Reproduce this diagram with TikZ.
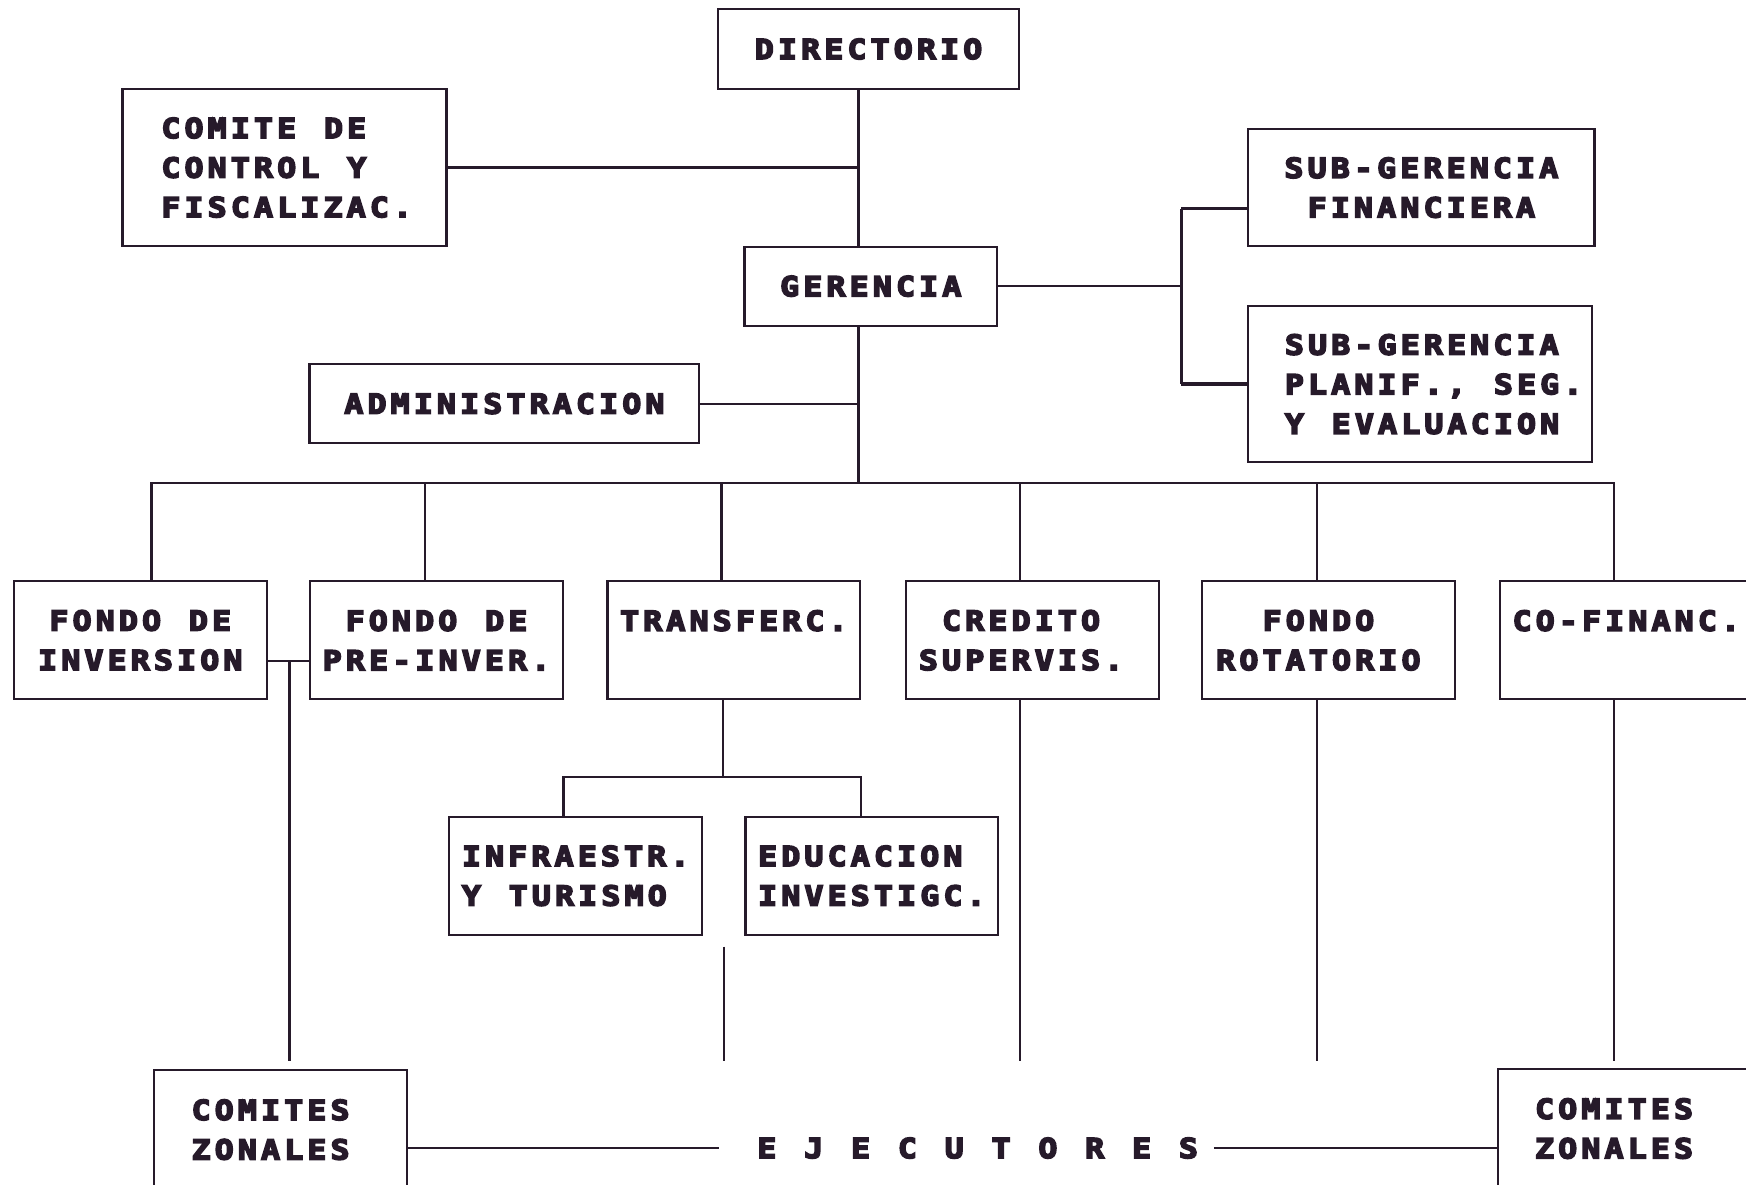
\documentclass[tikz,border=0pt]{standalone}
\usepackage{fontspec}
\newfontfamily\chartfont{DejaVu Sans Mono Bold}[FakeBold=6,FakeStretch=1.15,LetterSpace=15,WordSpace=1.2]
\usepackage{xcolor}
\definecolor{ink}{RGB}{38,26,42}

\tikzset{
    unit/.style={draw=ink, line width=2pt, text=ink, inner sep=0pt,
        font=\chartfont\fontsize{24.7}{35.5}\selectfont,
        minimum width=227pt, minimum height=106pt, align=center},
    link/.style={draw=ink, line width=2pt},
    stub/.style={draw=ink, line width=3pt},
    tag/.style={text=ink, inner sep=0pt, font=\chartfont\fontsize{24.7}{35.5}\selectfont},
}

\begin{document}
\begin{tikzpicture}[x=1pt,y=-1pt]
        \useasboundingbox (0,0) rectangle (1568,1064);

        % top of the chart
        \node[unit, minimum width=270pt, minimum height=72pt] (dir) at (780,44) {DIRECTORIO};
        \node[unit, minimum width=291pt, minimum height=141pt, align=left] (com) at (255.5,150.5) {\kern4pt COMITE DE\\\kern4pt CONTROL Y\\\kern4pt FISCALIZAC.};
        \node[unit, minimum height=71pt] (ger) at (782,257) {GERENCIA};
        \node[unit, minimum width=350pt, minimum height=71pt] (adm) at (453,362.5) {ADMINISTRACION};
        \node[unit, minimum width=311pt, minimum height=105pt] (sfin) at (1276.5,168.5) {SUB-GERENCIA\\FINANCIERA};
        \node[unit, minimum width=309pt, minimum height=140pt, align=left] (spla) at (1275.5,345)
            {\kern24pt SUB-GERENCIA\\\kern24pt PLANIF., SEG.\\\kern24pt Y EVALUACION};

        % fondos
        \node[unit] (fi) at (126,575) {FONDO DE\\INVERSION};
        \node[unit] (fp) at (392,575) {FONDO DE\\PRE-INVER.};
        \node[unit] (tr) at (659,575) {TRANSFERC.\\\phantom{X}};
        \node[unit] (cr) at (927,575) {CREDITO\kern20pt\\SUPERVIS.\kern20pt};
        \node[unit] (ro) at (1193,575) {FONDO\kern18pt\\ROTATORIO\kern18pt};
        \node[unit] (cf) at (1460.5,575) {CO-FINANC.\\\phantom{X}};

        \node[unit, align=left] (inf) at (517,786.5) {INFRAESTR.\\Y TURISMO};
        \node[unit, align=left] (edu) at (783,786.5) {EDUCACION\\INVESTIGC.};

        % ejecutores
        \node[unit, minimum height=107pt] (zl) at (252,1014.5) {COMITES\kern18pt\\ZONALES\kern18pt};
        \node[unit, minimum height=107pt] (zr) at (1458.5,1013.5) {COMITES\kern18pt\\ZONALES\kern18pt};
        \node[tag] (ej) at (878,1031) {E J E C U T O R E S};

        \coordinate (spine) at (771,0);
        \coordinate (bus) at (771,434);
        \coordinate (fork) at (1061,257);
        \coordinate (low) at (0,953);
        \coordinate (fz) at (260,593.5);
        \coordinate (tsplit) at (649,698);
        \coordinate (tfree) at (650,850);

        \draw[link] (dir.south -| spine) -- (ger.north -| spine);
        \draw[link] (com.east) -- (com.east -| spine);
        \draw[link] (adm.east) -- (adm.east -| spine);
        \draw[link] (ger.south -| spine) -- (bus);

        \draw[link] (ger.east) -- (fork);
        \draw[link] ([yshift=-19pt]sfin.west -| fork) -- (spla.west -| fork);
        \draw[stub] ([yshift=-19pt]sfin.west) -- ([yshift=-19pt]sfin.west -| fork);
        \draw[stub] (spla.west) -- (spla.west -| fork);

        \foreach \b/\d in {fi/10, fp/-10.5, tr/-11, cr/-11, ro/-10, cf/-11}
            \draw[link] (bus) -| ([xshift=\d pt]\b.north);

        \draw[link] ([yshift=-18.5pt]fi.east) -- ([yshift=-18.5pt]fp.west);
        \draw[link] (fz) -- (fz |- low);

        \draw[link] ([xshift=-10pt]tr.south) -- (tsplit);
        \draw[link] ([xshift=-11pt]inf.north) |- (tsplit) -| ([xshift=-10pt]edu.north);
        \draw[link] (tfree) -- (tfree |- low);

        \foreach \b/\d in {cr/-11, ro/-10, cf/-11}
            \draw[link] ([xshift=\d pt]\b.south) -- ([xshift=\d pt]\b.south |- low);

        \draw[link] (ej.west -| zl.east) -- ([xshift=-34pt]ej.west);
        \draw[link] ([xshift=14pt]ej.east) -- (ej.east -| zr.west);
    \end{tikzpicture}
\end{document}
